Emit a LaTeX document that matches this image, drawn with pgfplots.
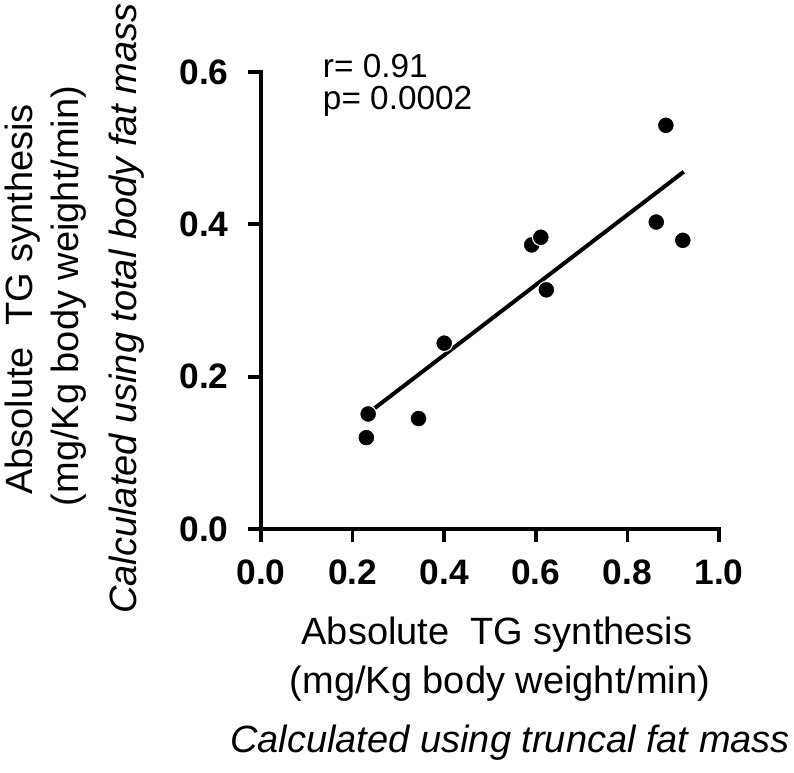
\documentclass[border=0pt]{standalone}
\usepackage{pgfplots}
\pgfplotsset{compat=1.18}
\usepackage{fontspec}
\setmainfont{Liberation Sans}
\begin{document}
\begin{tikzpicture}
\useasboundingbox (-195.75pt,-183pt) rectangle (399.75pt,396.75pt);
\begin{axis}[
  at={(0pt,0pt)}, anchor=origin,
  scale only axis,
  width=343.5pt, height=342.75pt,
  xmin=0, xmax=1, ymin=0, ymax=0.6,
  axis x line=bottom, axis y line=left,
  axis line style={-, line width=2.8pt, line cap=rect},
  every tick/.style={black, line width=2.8pt},
  tick align=outside,
  major tick length=9.75pt,
  xtick={0,0.2,0.4,0.6,0.8,1.0},
  ytick={0,0.2,0.4,0.6},
  minor tick num=0,
  clip=false,
  /pgf/number format/assume math mode=true,
  /pgf/number format/.cd, fixed, fixed zerofill, precision=1,
  /pgfplots/.cd,
  tick label style={font=\fontsize{26.5}{26.5}\selectfont\bfseries},
  xticklabel style={anchor=north, yshift=-10pt},
  yticklabel style={anchor=east, xshift=-11pt},
]
\addplot[black, line width=3pt, no marks] coordinates {(0.236,0.153) (0.923,0.469)};
\addplot[only marks, mark=*, mark size=6.3pt, mark options={fill=black, draw=white, line width=0.8pt}] coordinates {
(0.230,0.120)
(0.234,0.151)
(0.344,0.145)
(0.400,0.244)
(0.591,0.373)
(0.611,0.383)
(0.623,0.314)
(0.863,0.403)
(0.884,0.530)
(0.921,0.379)
};
\end{axis}
\begin{scope}[every node/.style={inner sep=0pt, outer sep=0pt}]
\node[anchor=base west, font=\fontsize{25}{25}\selectfont] at (46.5pt,338.25pt) {r= 0.91};
\node[anchor=base west, font=\fontsize{25}{25}\selectfont] at (46.5pt,314.25pt) {p= 0.0002};
\node[anchor=base, font=\fontsize{28.5}{28.5}\selectfont] at (177pt,-87pt) {Absolute\ \ TG synthesis};
\node[anchor=base, font=\fontsize{28.5}{28.5}\selectfont] at (179.25pt,-123.75pt) {(mg/Kg body weight/min)};
\node[anchor=base east, font=\fontsize{28.5}{28.5}\selectfont\itshape] at (396.75pt,-168pt) {Calculated using truncal fat mass};
\node[anchor=base, rotate=90, font=\fontsize{28.5}{28.5}\selectfont] at (-171pt,172.1pt) {Absolute\ \ TG synthesis};
\node[anchor=base, rotate=90, font=\fontsize{28.5}{28.5}\selectfont] at (-136.5pt,174.75pt) {(mg/Kg body weight/min)};
\node[anchor=base, rotate=90, font=\fontsize{28.5}{28.5}\selectfont\itshape] at (-93pt,165.4pt) {Calculated using total body fat mass};
\end{scope}
\end{tikzpicture}
\end{document}
